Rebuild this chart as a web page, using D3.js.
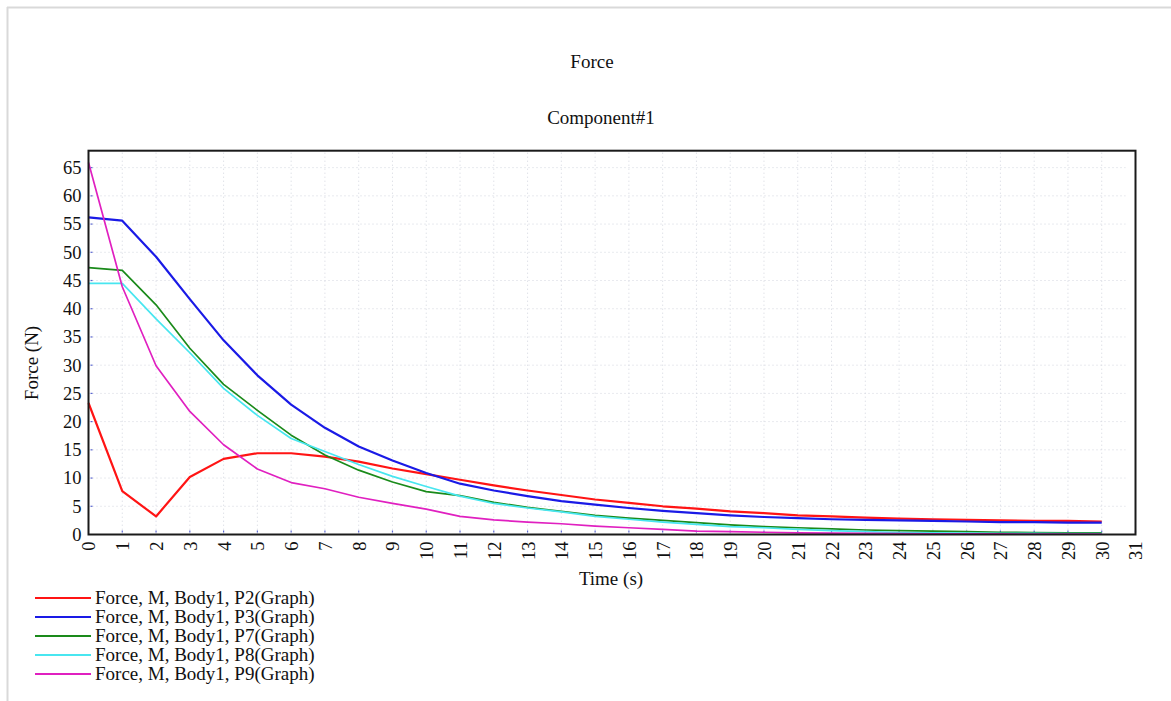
<!DOCTYPE html>
<html>
<head>
<meta charset="utf-8">
<script src="https://cdn.jsdelivr.net/npm/d3@7"></script>
<style>
  html, body { margin: 0; padding: 0; background: #ffffff; }
  svg { display: block; }
  text { font-family: "Liberation Serif", "Times New Roman", serif; fill: #111; }
</style>
</head>
<body>
<svg id="chart" width="1171" height="701"></svg>
<script>
const time = d3.range(0, 31);
const seriesNames = [
  "Force, M, Body1, P2(Graph)",
  "Force, M, Body1, P3(Graph)",
  "Force, M, Body1, P7(Graph)",
  "Force, M, Body1, P8(Graph)",
  "Force, M, Body1, P9(Graph)"
];
const seriesColors = ["#ff1414", "#1a1ae6", "#1a8a1a", "#48e6f0", "#e020c0"];
const seriesWidths = [2.2, 2.2, 1.7, 1.7, 1.7];

const p2 = [23.3, 7.7, 3.2, 10.2, 13.4, 14.4, 14.4, 13.8, 12.9, 11.7, 10.7, 9.7, 8.7, 7.8, 7.0, 6.2, 5.6, 5.0, 4.6, 4.1, 3.8, 3.4, 3.2, 3.0, 2.8, 2.7, 2.6, 2.5, 2.4, 2.4, 2.3];
const p3 = [56.2, 55.6, 49.2, 41.7, 34.4, 28.2, 23.0, 18.9, 15.6, 13.1, 10.9, 9.0, 7.8, 6.8, 5.9, 5.3, 4.7, 4.2, 3.8, 3.4, 3.1, 2.9, 2.7, 2.6, 2.5, 2.4, 2.3, 2.2, 2.2, 2.1, 2.1];
const p7 = [47.3, 46.8, 40.7, 33.0, 26.6, 22.0, 17.6, 14.1, 11.4, 9.3, 7.6, 6.9, 5.7, 4.8, 4.1, 3.4, 2.9, 2.5, 2.1, 1.7, 1.4, 1.2, 1.0, 0.8, 0.7, 0.6, 0.5, 0.4, 0.35, 0.3, 0.3];
const p8 = [44.5, 44.5, 38.2, 32.2, 25.9, 21.1, 17.0, 14.7, 12.4, 10.3, 8.5, 6.8, 5.5, 4.7, 4.0, 3.2, 2.7, 2.2, 1.8, 1.4, 1.2, 0.9, 0.7, 0.5, 0.35, 0.3, 0.25, 0.2, 0.2, 0.15, 0.15];
const p9 = [65.9, 43.9, 29.9, 21.8, 15.9, 11.6, 9.2, 8.1, 6.6, 5.5, 4.5, 3.2, 2.6, 2.2, 1.9, 1.5, 1.2, 0.9, 0.6, 0.5, 0.4, 0.3, 0.25, 0.2, 0.15, 0.1, 0.1, 0.1, 0.05, 0.05, 0.05];

const xTicks = d3.range(0, 32);
const yTicks = d3.range(0, 70, 5);

const chartTitle = "Force";
const chartSubtitle = "Component#1";
const xLabel = "Time (s)";
const yLabel = "Force (N)";

const seriesValues = [p2, p3, p7, p8, p9];

const svg = d3.select("#chart");

// outer frame (top + left)
svg.append("line").attr("x1", 7).attr("x2", 1171).attr("y1", 7.5).attr("y2", 7.5)
  .attr("stroke", "#d9d9d9").attr("stroke-width", 2);
svg.append("line").attr("x1", 7.5).attr("x2", 7.5).attr("y1", 7).attr("y2", 701)
  .attr("stroke", "#d9d9d9").attr("stroke-width", 2);

const pLeft = 88.5, pRight = 1135.5, pTop = 150.7, pBottom = 534.5;
const x = d3.scaleLinear().domain([0, 31]).range([pLeft, pRight]);
const y = d3.scaleLinear().domain([0, 68]).range([pBottom, pTop]);

// grid
const grid = svg.append("g");
grid.selectAll("line.v").data(xTicks.filter(d => d > 0 && d <= 30)).enter().append("line")
  .attr("x1", d => x(d)).attr("x2", d => x(d)).attr("y1", pTop + 2).attr("y2", pBottom)
  .attr("stroke", "#d2d5de").attr("stroke-width", 1).attr("stroke-dasharray", "1,3");
grid.selectAll("line.h").data(yTicks.filter(d => d > 0)).enter().append("line")
  .attr("x1", pLeft).attr("x2", x(30.7)).attr("y1", d => y(d)).attr("y2", d => y(d))
  .attr("stroke", "#d2d5de").attr("stroke-width", 1).attr("stroke-dasharray", "1,3");

// small blue tick dots inside
svg.append("g").selectAll("line").data(yTicks.filter(d => d > 0)).enter().append("line")
  .attr("x1", pLeft + 2).attr("x2", pLeft + 4).attr("y1", d => y(d)).attr("y2", d => y(d))
  .attr("stroke", "#5a66d0").attr("stroke-width", 1.2);
svg.append("g").selectAll("line").data(xTicks.filter(d => d > 0)).enter().append("line")
  .attr("x1", d => x(d)).attr("x2", d => x(d)).attr("y1", pBottom - 2).attr("y2", pBottom - 4)
  .attr("stroke", "#5a66d0").attr("stroke-width", 1.2);

// lines
const lineGen = d3.line().x((d, i) => x(time[i])).y(d => y(d));
seriesValues.forEach((vals, i) => {
  svg.append("path").datum(vals)
    .attr("d", lineGen)
    .attr("fill", "none")
    .attr("stroke", seriesColors[i])
    .attr("stroke-width", seriesWidths[i])
    .attr("stroke-linejoin", "round");
});

// plot frame
svg.append("rect").attr("x", pLeft).attr("y", pTop).attr("width", pRight - pLeft).attr("height", pBottom - pTop)
  .attr("fill", "none").attr("stroke", "#1a1a1a").attr("stroke-width", 2);

// axes
const yAxis = d3.axisLeft(y).tickValues(yTicks).tickSize(0).tickPadding(7).tickFormat(d3.format("d"));
const gy = svg.append("g").attr("transform", `translate(${pLeft},0)`).call(yAxis);
gy.select(".domain").remove();
gy.selectAll("text").style("font-family", '"Liberation Serif", serif').style("font-size", "18.5px").attr("fill", "#111");

const xAxis = d3.axisBottom(x).tickValues(xTicks).tickSize(0).tickFormat(d3.format("d"));
const gx = svg.append("g").attr("transform", `translate(0,${pBottom})`).call(xAxis);
gx.select(".domain").remove();
gx.selectAll("text")
  .attr("y", 0).attr("x", -7).attr("dy", "0.35em")
  .attr("transform", "rotate(-90)")
  .style("text-anchor", "end")
  .style("font-family", '"Liberation Serif", serif').style("font-size", "18.5px").attr("fill", "#111");

// titles
svg.append("text").attr("x", 592).attr("y", 68).attr("text-anchor", "middle").style("font-size", "19px").text(chartTitle);
svg.append("text").attr("x", 601).attr("y", 124).attr("text-anchor", "middle").style("font-size", "19px").text(chartSubtitle);
svg.append("text").attr("x", 611).attr("y", 585).attr("text-anchor", "middle").style("font-size", "19px").text(xLabel);
svg.append("text").attr("transform", "translate(38,363) rotate(-90)").attr("text-anchor", "middle").style("font-size", "19px").text(yLabel);

// legend
const legend = svg.append("g");
seriesNames.forEach((name, i) => {
  const ly = 598 + i * 19;
  legend.append("line").attr("x1", 35).attr("x2", 91).attr("y1", ly).attr("y2", ly)
    .attr("stroke", seriesColors[i]).attr("stroke-width", 2);
  legend.append("text").attr("x", 95).attr("y", ly + 6).style("font-size", "19px").text(name);
});
</script>
</body>
</html>
